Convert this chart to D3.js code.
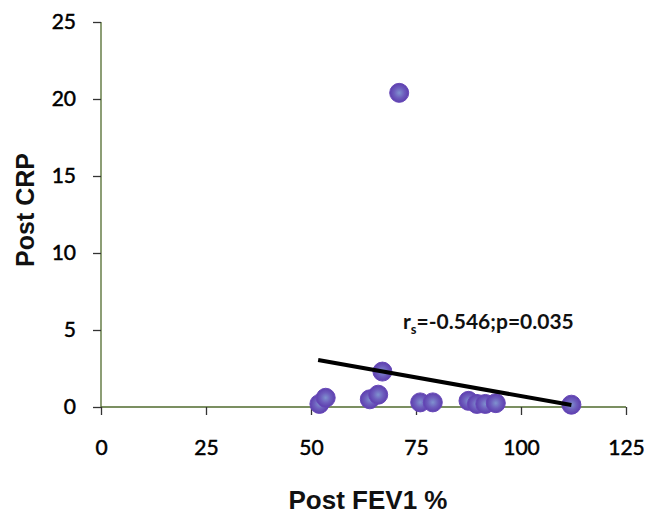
<!DOCTYPE html>
<html>
<head>
<meta charset="utf-8">
<script src="https://cdn.jsdelivr.net/npm/d3@7"></script>
<style>
  body { margin: 0; background: #fff; }
</style>
</head>
<body>
<div id="chart"></div>
<script>
var width = 647,
    height = 515;

// Post FEV1 % vs Post CRP
var fev1 = [52, 53.5, 64, 66, 67, 71, 76, 79, 87.5, 89.5, 91.5, 94, 112];
var crp = [0.2, 0.6, 0.5, 0.8, 2.3, 20.4, 0.3, 0.3, 0.4, 0.2, 0.2, 0.25, 0.15];
var xTicks = [0, 25, 50, 75, 100, 125];
var yTicks = [0, 5, 10, 15, 20, 25];
var fitLine = [[51.7, 3.05], [112, 0.13]];
var statLabel = ["r", "s", "=-0.546;p=0.035"];

var x = d3.scaleLinear().domain([0, 125]).range([101, 626]);
var y = d3.scaleLinear().domain([0, 25]).range([407, 22]);

var svg = d3.select("#chart").append("svg")
    .attr("width", width)
    .attr("height", height);

var grad = svg.append("defs").append("radialGradient")
    .attr("id", "dot");
grad.append("stop").attr("offset", "0%").attr("stop-color", "#7f92cf");
grad.append("stop").attr("offset", "55%").attr("stop-color", "#6d5cbd");
grad.append("stop").attr("offset", "100%").attr("stop-color", "#5d3fae");

var axisColor = "#4f6a2c";

var xAxis = svg.append("g")
    .attr("transform", "translate(0," + y(0) + ")")
    .call(d3.axisBottom(x).tickValues(xTicks).tickSize(8).tickPadding(25));

var yAxis = svg.append("g")
    .attr("transform", "translate(" + x(0) + ",0)")
    .call(d3.axisLeft(y).tickValues(yTicks).tickSize(8).tickPadding(17));

[xAxis, yAxis].forEach(function (g) {
    g.select(".domain").attr("stroke", axisColor).attr("stroke-width", 1.3);
    g.selectAll(".tick line").attr("stroke", "#333").attr("stroke-width", 1.3);
    g.selectAll(".tick text")
        .attr("fill", "#000")
        .attr("stroke", "#000")
        .attr("stroke-width", 0.5)
        .attr("font-family", "Lato, sans-serif")
        .attr("font-size", 21);
});
xAxis.select(".domain").attr("d", "M" + x(0) + ",0H" + x(125));
yAxis.select(".domain").attr("d", "M0," + y(25) + "V" + y(0));

svg.append("g")
    .selectAll("circle")
    .data(fev1)
    .join("circle")
    .attr("cx", function (d) { return x(d); })
    .attr("cy", function (d, i) { return y(crp[i]); })
    .attr("r", 9.5)
    .attr("fill", "url(#dot)")
    .attr("stroke", "#6747b8")
    .attr("stroke-width", 1);

svg.append("line")
    .attr("x1", x(fitLine[0][0]))
    .attr("y1", y(fitLine[0][1]))
    .attr("x2", x(fitLine[1][0]))
    .attr("y2", y(fitLine[1][1]))
    .attr("stroke", "#000")
    .attr("stroke-width", 4);

var label = svg.append("text")
    .attr("x", 403)
    .attr("y", 329)
    .attr("font-family", "Lato, sans-serif")
    .attr("font-weight", "bold")
    .attr("font-size", 21)
    .attr("fill", "#111");
label.append("tspan").text(statLabel[0]);
label.append("tspan").attr("font-size", 13).attr("dy", 5).text(statLabel[1]);
label.append("tspan").attr("dy", -5).text(statLabel[2]);

svg.append("text")
    .attr("x", 368)
    .attr("y", 509)
    .attr("text-anchor", "middle")
    .attr("font-family", "Liberation Sans, Arial, sans-serif")
    .attr("font-weight", "bold")
    .attr("font-size", 26)
    .attr("fill", "#111")
    .text("Post FEV1 %");

svg.append("text")
    .attr("transform", "translate(34,210) rotate(-90)")
    .attr("text-anchor", "middle")
    .attr("font-family", "Liberation Sans, Arial, sans-serif")
    .attr("font-weight", "bold")
    .attr("font-size", 25)
    .attr("fill", "#111")
    .text("Post CRP");
</script>
</body>
</html>
